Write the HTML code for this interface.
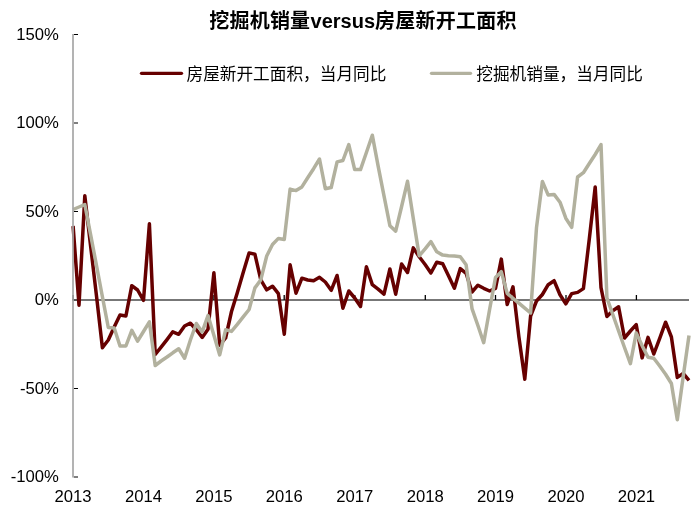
<!DOCTYPE html>
<html><head><meta charset="utf-8"><title>chart</title>
<style>html,body{margin:0;padding:0;background:#fff;}svg{display:block;}</style></head>
<body><svg width="699" height="518" viewBox="0 0 699 518">
<rect width="699" height="518" fill="#fff"/>
<line x1="73.8" y1="34.5" x2="78" y2="34.5" stroke="#000" stroke-width="1"/>
<line x1="73.8" y1="123.0" x2="78" y2="123.0" stroke="#000" stroke-width="1"/>
<line x1="73.8" y1="211.5" x2="78" y2="211.5" stroke="#000" stroke-width="1"/>
<line x1="73.8" y1="300.0" x2="78" y2="300.0" stroke="#000" stroke-width="1"/>
<line x1="73.8" y1="388.5" x2="78" y2="388.5" stroke="#000" stroke-width="1"/>
<line x1="73.8" y1="477.0" x2="78" y2="477.0" stroke="#000" stroke-width="1"/>
<line x1="72.3" y1="300" x2="689" y2="300" stroke="#4a4a4a" stroke-width="1.6"/>
<line x1="73.1" y1="295" x2="73.1" y2="300" stroke="#000" stroke-width="1.3"/>
<line x1="143.5" y1="295" x2="143.5" y2="300" stroke="#000" stroke-width="1.3"/>
<line x1="213.9" y1="295" x2="213.9" y2="300" stroke="#000" stroke-width="1.3"/>
<line x1="284.2" y1="295" x2="284.2" y2="300" stroke="#000" stroke-width="1.3"/>
<line x1="354.8" y1="295" x2="354.8" y2="300" stroke="#000" stroke-width="1.3"/>
<line x1="425.3" y1="295" x2="425.3" y2="300" stroke="#000" stroke-width="1.3"/>
<line x1="495.5" y1="295" x2="495.5" y2="300" stroke="#000" stroke-width="1.3"/>
<line x1="566.0" y1="295" x2="566.0" y2="300" stroke="#000" stroke-width="1.3"/>
<line x1="636.4" y1="295" x2="636.4" y2="300" stroke="#000" stroke-width="1.3"/>
<polyline fill="none" stroke="#660000" stroke-width="3.5" stroke-linejoin="round" stroke-linecap="butt" points="73.1,226.0 79.0,305.2 84.8,195.8 90.7,246.7 96.6,296.9 102.4,347.7 108.3,340.0 114.2,327.0 120.0,315.0 125.9,316.0 131.8,285.7 137.6,290.0 143.5,300.3 149.4,223.8 155.2,354.5 161.1,347.2 167.0,339.6 172.8,331.8 178.7,334.3 184.6,326.0 190.4,323.2 196.3,329.7 202.2,337.4 208.0,329.3 213.9,272.8 219.7,345.2 225.6,338.0 231.5,311.5 237.3,292.7 243.2,272.5 249.1,252.9 254.9,254.2 260.8,279.9 266.7,289.8 272.5,286.2 278.4,293.7 284.3,334.2 290.1,264.8 296.0,293.2 301.9,278.2 307.7,280.0 313.6,280.7 319.5,277.3 325.3,282.0 331.2,290.3 337.1,275.5 342.9,308.3 348.8,291.0 354.7,298.0 360.5,306.5 366.4,266.8 372.3,284.6 378.1,289.2 384.0,294.2 389.9,269.0 395.7,294.2 401.6,264.0 407.5,272.5 413.3,247.9 419.2,256.7 425.1,264.5 430.9,273.0 436.8,262.2 442.7,263.8 448.5,275.7 454.4,288.2 460.3,268.6 466.1,273.3 472.0,292.0 477.9,285.2 483.7,288.3 489.6,291.0 495.5,288.4 501.3,259.1 507.2,304.5 513.0,286.9 518.9,337.0 524.8,379.2 530.6,316.0 536.5,301.0 542.4,294.5 548.2,284.7 554.1,280.7 560.0,294.8 565.8,303.8 571.7,293.6 577.6,292.4 583.4,288.6 589.3,239.0 595.2,187.0 601.0,287.6 606.9,316.5 612.8,310.7 618.6,306.8 624.5,338.0 630.4,331.0 636.2,324.6 642.1,357.9 648.0,337.4 653.8,354.0 659.7,338.4 665.6,322.2 671.4,337.0 677.3,377.4 683.2,373.5 689.0,380.3"/>
<polyline fill="none" stroke="#b2b19e" stroke-width="3.5" stroke-linejoin="round" stroke-linecap="butt" points="73.1,209.5 79.0,207.0 84.8,204.5 90.7,235.2 96.6,266.0 102.4,296.7 108.3,327.5 114.2,328.0 120.0,346.0 125.9,346.0 131.8,330.3 137.6,341.2 143.5,331.5 149.4,321.8 155.2,365.5 161.1,361.0 167.0,357.0 172.8,352.8 178.7,348.8 184.6,358.2 190.4,340.0 196.3,323.5 202.2,331.9 208.0,315.6 213.9,335.2 219.7,354.9 225.6,329.8 231.5,331.4 237.3,324.4 243.2,316.9 249.1,309.5 254.9,287.9 260.8,279.9 266.7,256.0 272.5,244.5 278.4,238.4 284.3,239.4 290.1,189.1 296.0,190.6 301.9,186.9 307.7,177.8 313.6,168.7 319.5,159.0 325.3,188.7 331.2,187.5 337.1,161.9 342.9,160.5 348.8,144.6 354.7,169.6 360.5,169.6 366.4,152.5 372.3,135.2 378.1,165.8 384.0,195.8 389.9,225.7 395.7,231.1 401.6,206.5 407.5,181.3 413.3,218.5 419.2,255.8 425.1,248.9 430.9,241.6 436.8,251.8 442.7,255.1 448.5,255.7 454.4,256.1 460.3,256.8 466.1,264.7 472.0,308.6 477.9,325.5 483.7,342.7 489.6,309.5 495.5,277.5 501.3,271.7 507.2,293.4 513.0,298.3 518.9,303.2 524.8,308.1 530.6,313.0 536.5,227.6 542.4,181.4 548.2,195.1 554.1,194.4 560.0,202.2 565.8,218.2 571.7,227.4 577.6,177.0 583.4,172.7 589.3,163.5 595.2,154.5 601.0,144.6 606.9,297.8 612.8,314.5 618.6,331.0 624.5,347.5 630.4,363.6 636.2,333.0 642.1,345.6 648.0,357.2 653.8,358.3 659.7,366.0 665.6,374.2 671.4,383.5 677.3,419.8 683.2,376.4 689.0,335.5"/>
<line x1="73" y1="34" x2="73" y2="477.5" stroke="#a6a6a6" stroke-width="1.7"/>
<line x1="141.5" y1="73.3" x2="181.5" y2="73.3" stroke="#660000" stroke-width="3.3" stroke-linecap="round"/>
<line x1="431.5" y1="73.3" x2="470.5" y2="73.3" stroke="#b2b19e" stroke-width="3.3" stroke-linecap="round"/>
<text x="186.5" y="79.5" font-size="16.67" fill="#000" font-family="'Liberation Sans', 'Noto Sans CJK SC', sans-serif">房屋新开工面积，当月同比</text>
<text x="476.3" y="79.5" font-size="16.67" fill="#000" font-family="'Liberation Sans', 'Noto Sans CJK SC', sans-serif">挖掘机销量，当月同比</text>
<text y="28.3" font-size="20" font-weight="bold" fill="#000" font-family="'Liberation Sans', 'Noto Sans CJK SC', sans-serif"><tspan x="209.3" letter-spacing="0.2">挖掘机销量</tspan><tspan x="310.6">versus</tspan><tspan x="375" letter-spacing="0.25">房屋新开工面积</tspan></text>
<text x="58.9" y="39.5" font-size="16.67" text-anchor="end" fill="#000" font-family="'Liberation Sans', 'Noto Sans CJK SC', sans-serif">150%</text>
<text x="58.9" y="128.0" font-size="16.67" text-anchor="end" fill="#000" font-family="'Liberation Sans', 'Noto Sans CJK SC', sans-serif">100%</text>
<text x="58.9" y="216.5" font-size="16.67" text-anchor="end" fill="#000" font-family="'Liberation Sans', 'Noto Sans CJK SC', sans-serif">50%</text>
<text x="58.9" y="305.0" font-size="16.67" text-anchor="end" fill="#000" font-family="'Liberation Sans', 'Noto Sans CJK SC', sans-serif">0%</text>
<text x="58.9" y="393.5" font-size="16.67" text-anchor="end" fill="#000" font-family="'Liberation Sans', 'Noto Sans CJK SC', sans-serif">-50%</text>
<text x="58.9" y="482.0" font-size="16.67" text-anchor="end" fill="#000" font-family="'Liberation Sans', 'Noto Sans CJK SC', sans-serif">-100%</text>
<text x="73.1" y="502" font-size="16.67" text-anchor="middle" fill="#000" font-family="'Liberation Sans', 'Noto Sans CJK SC', sans-serif">2013</text>
<text x="143.5" y="502" font-size="16.67" text-anchor="middle" fill="#000" font-family="'Liberation Sans', 'Noto Sans CJK SC', sans-serif">2014</text>
<text x="213.9" y="502" font-size="16.67" text-anchor="middle" fill="#000" font-family="'Liberation Sans', 'Noto Sans CJK SC', sans-serif">2015</text>
<text x="284.2" y="502" font-size="16.67" text-anchor="middle" fill="#000" font-family="'Liberation Sans', 'Noto Sans CJK SC', sans-serif">2016</text>
<text x="354.8" y="502" font-size="16.67" text-anchor="middle" fill="#000" font-family="'Liberation Sans', 'Noto Sans CJK SC', sans-serif">2017</text>
<text x="425.3" y="502" font-size="16.67" text-anchor="middle" fill="#000" font-family="'Liberation Sans', 'Noto Sans CJK SC', sans-serif">2018</text>
<text x="495.5" y="502" font-size="16.67" text-anchor="middle" fill="#000" font-family="'Liberation Sans', 'Noto Sans CJK SC', sans-serif">2019</text>
<text x="566.0" y="502" font-size="16.67" text-anchor="middle" fill="#000" font-family="'Liberation Sans', 'Noto Sans CJK SC', sans-serif">2020</text>
<text x="636.4" y="502" font-size="16.67" text-anchor="middle" fill="#000" font-family="'Liberation Sans', 'Noto Sans CJK SC', sans-serif">2021</text>
</svg></body></html>
